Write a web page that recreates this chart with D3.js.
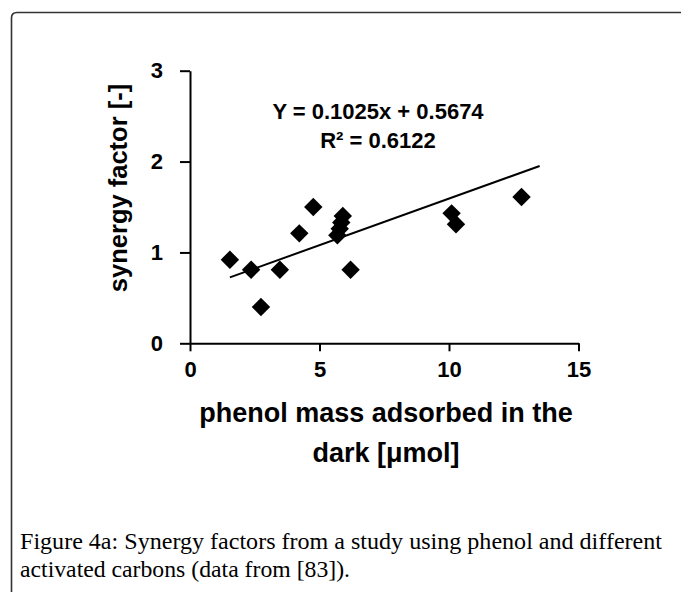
<!DOCTYPE html>
<html>
<head>
<meta charset="utf-8">
<script src="https://cdn.jsdelivr.net/npm/d3@7"></script>
<style>
  body { margin: 0; background: #fff; }
  svg { display: block; }
  .axis path, .axis line { stroke: #000; stroke-width: 2px; }
  .axis text { font-family: Arial, "Liberation Sans", sans-serif; font-weight: bold; font-size: 22px; fill: #000; }
  .title { font-family: Arial, "Liberation Sans", sans-serif; font-weight: bold; fill: #000; }
  .caption { font-family: "Liberation Serif", "Times New Roman", serif; font-size: 23px; fill: #000; }
</style>
</head>
<body>
<div id="chart"></div>
<script>
//
// data
//
var phenolMass = [1.54, 2.36, 2.74, 3.47, 4.22, 4.76, 5.69, 5.78, 5.84, 5.9, 6.2, 10.1, 10.27, 12.8];
var synergy    = [0.92, 0.81, 0.40, 0.81, 1.21, 1.50, 1.19, 1.26, 1.33, 1.40, 0.81, 1.43, 1.31, 1.61];
var xTicks = [0, 5, 10, 15];
var yTicks = [0, 1, 2, 3];
var slope = 0.1025, intercept = 0.5674;
var trendRange = [1.54, 13.5];
var equationLines = ["Y = 0.1025x + 0.5674", "R\u00b2 = 0.6122"];
var xTitleLines = ["phenol mass adsorbed in the", "dark [\u03bcmol]"];
var yTitle = "synergy factor [-]";
var captionLines = ["Figure 4a: Synergy factors from a study using phenol and different",
                    "activated carbons (data from [83])."];
var captionWidths = [642, 330];

var W = 681, H = 592;

var svg = d3.select("#chart").append("svg")
    .attr("width", W)
    .attr("height", H);

// frame round the figure, only top and left edges are visible
svg.append("path")
    .attr("d", "M11.5," + (H + 5) + " L11.5,18 Q11.5,12.5 17,12.5 L" + (W + 5) + ",12.5")
    .attr("fill", "none")
    .attr("stroke", "#333")
    .attr("stroke-width", 1.6);

var x = d3.scaleLinear().domain([0, 15]).range([190, 578.5]);
var y = d3.scaleLinear().domain([0, 3]).range([343.3, 70.7]);

// axes
svg.append("g")
    .attr("class", "axis")
    .attr("transform", "translate(0," + y(0) + ")")
    .call(d3.axisBottom(x).tickValues(xTicks).tickSize(8).tickSizeOuter(0).tickPadding(10).tickFormat(d3.format("d")));

svg.append("g")
    .attr("class", "axis")
    .attr("transform", "translate(" + x(0) + ",0)")
    .call(d3.axisLeft(y).tickValues(yTicks).tickSize(10).tickSizeOuter(0).tickPadding(17).tickFormat(d3.format("d")));

// trend line
svg.append("line")
    .attr("x1", x(trendRange[0]))
    .attr("y1", y(slope * trendRange[0] + intercept))
    .attr("x2", x(trendRange[1]))
    .attr("y2", y(slope * trendRange[1] + intercept))
    .attr("stroke", "#000")
    .attr("stroke-width", 2);

// diamond markers
var diamond = d3.symbol().type(d3.symbolSquare).size(170);
svg.selectAll(".pt")
    .data(d3.range(phenolMass.length))
    .enter().append("path")
    .attr("class", "pt")
    .attr("d", diamond)
    .attr("transform", function(i) { return "translate(" + x(phenolMass[i]) + "," + y(synergy[i]) + ")rotate(45)"; })
    .attr("fill", "#000");

// regression equation
svg.selectAll(".eq")
    .data(equationLines)
    .enter().append("text")
    .attr("class", "title eq")
    .attr("x", 378)
    .attr("y", function(d, i) { return 119 + i * 29; })
    .attr("text-anchor", "middle")
    .style("font-size", "22px")
    .text(function(d) { return d; });

// axis titles
svg.selectAll(".xt")
    .data(xTitleLines)
    .enter().append("text")
    .attr("class", "title xt")
    .attr("x", 386)
    .attr("y", function(d, i) { return 422 + i * 40; })
    .attr("text-anchor", "middle")
    .style("font-size", "27px")
    .text(function(d) { return d; });

svg.append("text")
    .attr("class", "title")
    .attr("transform", "translate(127,188)rotate(-90)")
    .attr("text-anchor", "middle")
    .style("font-size", "25.5px")
    .text(yTitle);

// caption
svg.selectAll(".caption")
    .data(captionLines)
    .enter().append("text")
    .attr("class", "caption")
    .attr("x", 20)
    .attr("y", function(d, i) { return 549 + i * 28; })
    .attr("textLength", function(d, i) { return captionWidths[i]; })
    .attr("lengthAdjust", "spacingAndGlyphs")
    .text(function(d) { return d; });
</script>
</body>
</html>
